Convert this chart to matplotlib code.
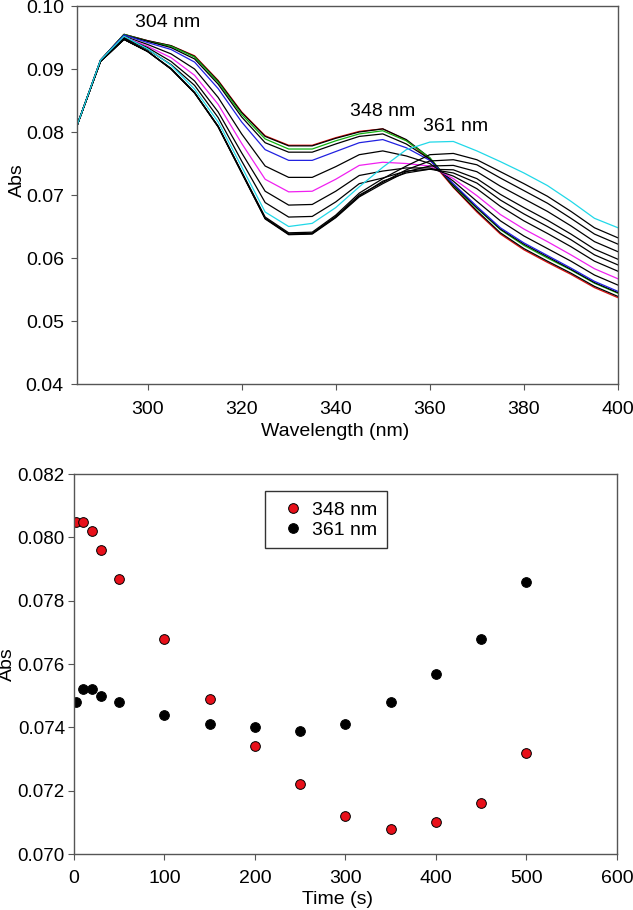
import numpy as np
import matplotlib
matplotlib.use('Agg')
import matplotlib.pyplot as plt
from matplotlib.ticker import FormatStrFormatter

plt.rcParams['font.family'] = ['Liberation Sans', 'DejaVu Sans']
plt.rcParams['font.size'] = 14

#   Spectra (Abs vs wavelength), one per time point
wavelengths = [285, 290, 295, 300, 305, 310, 315, 320, 325, 330, 335, 340,
               345, 350, 355, 360, 365, 370, 375, 380, 385, 390, 395, 400]

spec_t2 = [0.0810, 0.0914, 0.0955, 0.0945, 0.0937, 0.0921, 0.0882, 0.0832, 0.0794, 0.0779, 0.0779, 0.0791,
           0.0801, 0.0805, 0.0787, 0.0756, 0.0712, 0.0673, 0.0638, 0.0613, 0.0593, 0.0574, 0.0553, 0.0537]
spec_t10 = [0.0810, 0.0914, 0.0955, 0.0945, 0.0937, 0.0920, 0.0881, 0.0831, 0.0793, 0.0778, 0.0778, 0.0790,
            0.0800, 0.0805, 0.0788, 0.0759, 0.0713, 0.0675, 0.0640, 0.0615, 0.0595, 0.0576, 0.0555, 0.0539]
spec_t20 = [0.0810, 0.0914, 0.0955, 0.0944, 0.0936, 0.0919, 0.0879, 0.0828, 0.0789, 0.0773, 0.0773, 0.0786,
            0.0797, 0.0802, 0.0786, 0.0759, 0.0715, 0.0679, 0.0645, 0.0620, 0.0600, 0.0581, 0.0560, 0.0544]
spec_t30 = [0.0810, 0.0914, 0.0954, 0.0944, 0.0934, 0.0916, 0.0876, 0.0824, 0.0783, 0.0768, 0.0768, 0.0781,
            0.0793, 0.0797, 0.0781, 0.0757, 0.0716, 0.0680, 0.0646, 0.0622, 0.0602, 0.0582, 0.0561, 0.0545]
spec_t50 = [0.0810, 0.0914, 0.0954, 0.0942, 0.0931, 0.0911, 0.0869, 0.0816, 0.0772, 0.0755, 0.0755, 0.0769,
            0.0783, 0.0788, 0.0775, 0.0755, 0.0718, 0.0682, 0.0648, 0.0624, 0.0604, 0.0584, 0.0563, 0.0547]
spec_t100 = [0.0810, 0.0913, 0.0952, 0.0939, 0.0924, 0.0900, 0.0855, 0.0797, 0.0746, 0.0728, 0.0728, 0.0745,
             0.0764, 0.0770, 0.0762, 0.0750, 0.0722, 0.0690, 0.0659, 0.0635, 0.0615, 0.0595, 0.0573, 0.0557]
spec_t150 = [0.0810, 0.0913, 0.0951, 0.0936, 0.0918, 0.0890, 0.0844, 0.0782, 0.0725, 0.0705, 0.0706, 0.0725,
             0.0747, 0.0752, 0.0750, 0.0746, 0.0726, 0.0699, 0.0669, 0.0646, 0.0626, 0.0605, 0.0583, 0.0567]
spec_t200 = [0.0810, 0.0913, 0.0950, 0.0934, 0.0912, 0.0881, 0.0832, 0.0767, 0.0706, 0.0684, 0.0685, 0.0706,
             0.0731, 0.0738, 0.0743, 0.0743, 0.0730, 0.0710, 0.0682, 0.0659, 0.0639, 0.0618, 0.0595, 0.0579]
spec_t250 = [0.0810, 0.0912, 0.0949, 0.0931, 0.0907, 0.0874, 0.0823, 0.0754, 0.0688, 0.0665, 0.0666, 0.0689,
             0.0718, 0.0727, 0.0738, 0.0741, 0.0735, 0.0719, 0.0692, 0.0670, 0.0650, 0.0629, 0.0605, 0.0589]
spec_t300 = [0.0810, 0.0912, 0.0947, 0.0928, 0.0900, 0.0862, 0.0809, 0.0736, 0.0663, 0.0638, 0.0639, 0.0665,
             0.0698, 0.0722, 0.0735, 0.0741, 0.0740, 0.0726, 0.0701, 0.0680, 0.0660, 0.0638, 0.0614, 0.0598]
spec_t350 = [0.0810, 0.0912, 0.0947, 0.0928, 0.0900, 0.0862, 0.0808, 0.0735, 0.0662, 0.0637, 0.0638, 0.0664,
             0.0697, 0.0718, 0.0737, 0.0746, 0.0747, 0.0737, 0.0714, 0.0694, 0.0674, 0.0651, 0.0626, 0.0610]
spec_t400 = [0.0810, 0.0912, 0.0947, 0.0928, 0.0900, 0.0862, 0.0809, 0.0736, 0.0663, 0.0638, 0.0639, 0.0666,
             0.0700, 0.0720, 0.0740, 0.0754, 0.0756, 0.0748, 0.0727, 0.0707, 0.0687, 0.0663, 0.0638, 0.0622]
spec_t450 = [0.0810, 0.0912, 0.0947, 0.0928, 0.0901, 0.0863, 0.0809, 0.0737, 0.0665, 0.0640, 0.0641, 0.0668,
             0.0703, 0.0726, 0.0746, 0.0764, 0.0766, 0.0756, 0.0737, 0.0718, 0.0698, 0.0674, 0.0648, 0.0632]
spec_t500 = [0.0810, 0.0914, 0.0952, 0.0932, 0.0906, 0.0868, 0.0816, 0.0745, 0.0673, 0.0650, 0.0655, 0.0680,
             0.0713, 0.0744, 0.0772, 0.0784, 0.0785, 0.0770, 0.0753, 0.0735, 0.0715, 0.0690, 0.0663, 0.0648]

spectra = [spec_t2, spec_t10, spec_t20, spec_t30, spec_t50, spec_t100, spec_t150,
           spec_t200, spec_t250, spec_t300, spec_t350, spec_t400, spec_t450, spec_t500]
spec_colors = ['#e01010', 'black', '#10b010', 'black', '#2020e0', 'black', '#f020f0',
               'black', 'black', 'black', 'black', 'black', 'black', '#20d8e8']

peak_labels = ['304 nm', '348 nm', '361 nm']
peak_label_x = [304.2, 350.0, 365.5]
peak_label_y = [0.0974, 0.0832, 0.0808]

#   Time course at two wavelengths
times = [2, 10, 20, 30, 50, 100, 150, 200, 250, 300, 350, 400, 450, 500]
abs_348 = [0.0805, 0.0805, 0.0802, 0.0796, 0.0787, 0.0768, 0.0749, 0.0734, 0.0722, 0.0712, 0.0708, 0.0710, 0.0716, 0.0732]
abs_361 = [0.0748, 0.0752, 0.0752, 0.0750, 0.0748, 0.0744, 0.0741, 0.0740, 0.0739, 0.0741, 0.0748, 0.0757, 0.0768, 0.0786]

spine_col = '#555555'

fig = plt.figure(figsize=(6.33, 9.10), dpi=100)

#   Top panel: spectra
ax1 = fig.add_axes([0.1216, 0.5780, 0.8547, 0.4154])
for s, c in zip(spectra, spec_colors):
    ax1.plot(wavelengths, s, color=c, lw=0.9)
for t, x, y in zip(peak_labels, peak_label_x, peak_label_y):
    ax1.text(x, y, t, ha='center', va='center')
ax1.set_xlim(285, 400)
ax1.set_ylim(0.04, 0.10)
ax1.set_xticks(np.arange(300, 401, 20))
ax1.set_yticks(np.arange(0.04, 0.1001, 0.01))
ax1.yaxis.set_major_formatter(FormatStrFormatter('%.2f'))
ax1.tick_params(direction='out', length=4.5, width=0.8, color=spine_col)
ax1.tick_params(axis='y', pad=5)
ax1.tick_params(axis='x', pad=8)
ax1.set_xlabel('Wavelength (nm)')
ax1.set_ylabel('Abs')
ax1.xaxis.set_label_coords(0.478, -0.102)
ax1.yaxis.set_label_coords(-0.095, 0.54)
for sp in ax1.spines.values():
    sp.set_color(spine_col)
    sp.set_linewidth(1)

#   Bottom panel: time course
ax2 = fig.add_axes([0.1169, 0.0615, 0.8578, 0.4176])
ax2.plot(times, abs_348, 'o', color='#e8101a', mec='black', mew=0.7, ms=7, label='348 nm')
ax2.plot(times, abs_361, 'o', color='black', mec='black', mew=0.7, ms=7, label='361 nm')
ax2.set_xlim(0, 600)
ax2.set_ylim(0.070, 0.082)
ax2.set_xticks(np.arange(0, 601, 100))
ax2.set_yticks(np.arange(0.070, 0.0821, 0.002))
ax2.yaxis.set_major_formatter(FormatStrFormatter('%.3f'))
ax2.tick_params(direction='out', length=4.5, width=0.8, color=spine_col)
ax2.tick_params(axis='y', pad=2, labelsize=13.5)
ax2.tick_params(axis='x', pad=7)
ax2.set_xlabel('Time (s)')
ax2.set_ylabel('Abs')
ax2.xaxis.set_label_coords(0.485, -0.098)
ax2.yaxis.set_label_coords(-0.106, 0.50)
for sp in ax2.spines.values():
    sp.set_color(spine_col)
    sp.set_linewidth(1)

leg = ax2.legend(loc='upper left', bbox_to_anchor=(0.351, 0.954), borderaxespad=0,
                 fancybox=False, frameon=True, edgecolor='black', handletextpad=0.05,
                 borderpad=0.5, handlelength=1.9, labelspacing=0.12)
leg.get_frame().set_linewidth(1)

fig.savefig('out.png', dpi=100)
